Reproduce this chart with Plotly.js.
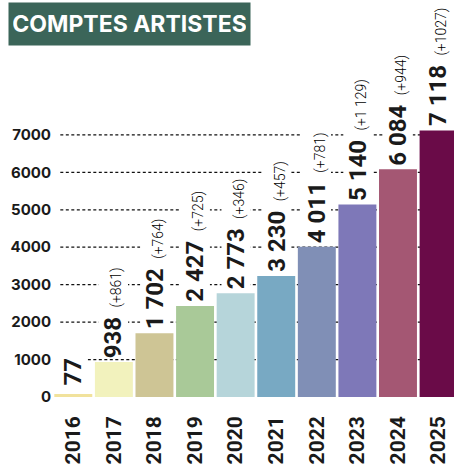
<!DOCTYPE html>
<html>
<head>
<meta charset="utf-8">
<script src="https://cdn.plot.ly/plotly-3.0.1.min.js"></script>
<style>html,body{margin:0;padding:0;background:#fff;}#chart{width:454px;height:471px;}</style>
</head>
<body>
<div id="chart"></div>
<script>
const years = ['2016','2017','2018','2019','2020','2021','2022','2023','2024','2025'];
const counts = [77, 938, 1702, 2427, 2773, 3230, 4011, 5140, 6084, 7118];
const countLabels = ['77','938','1 702','2 427','2 773','3 230','4 011','5 140','6 084','7 118'];
const increaseLabels = ['', '(+861)', '(+764)', '(+725)', '(+346)', '(+457)', '(+781)', '(+1 129)', '(+944)', '(+1027)'];
const barColors = ['#f1e29c','#f2f2bd','#cec595','#a9c998','#b6d5da','#78a9c3','#808fb6','#7e78b8','#a45773','#6a0b48'];
const yTickVals = [0, 1000, 2000, 3000, 4000, 5000, 6000, 7000];
const yTickText = ['0','1000','2000','3000','4000','5000','6000','7000'];
const chartTitle = 'COMPTES ARTISTES';

const numFont = 'Roboto, "DejaVu Sans", sans-serif';

const trace = {
  type: 'bar',
  x: years,
  y: counts,
  marker: {color: barColors, line: {width: 0}},
  hoverinfo: 'x+y'
};

const gridShapes = yTickVals.filter(v => v > 0).map(v => ({
  type: 'line', xref: 'x', yref: 'y', layer: 'below',
  x0: -0.32, x1: 9.6, y0: v, y1: v,
  line: {color: '#111', width: 1.3, dash: '3px,2.5px'}
}));

const barAnnotations = years.map((yr, i) => ({
  x: i, y: counts[i], xref: 'x', yref: 'y',
  text: '<b>' + countLabels[i] + '\u00a0</b>' + (increaseLabels[i] ? '<span style="font-size:14px;font-weight:300;color:#000000">\u00a0' + increaseLabels[i] + '</span>' : ''),
  textangle: -90, showarrow: false,
  xanchor: 'center', yanchor: 'bottom', yshift: i === 0 ? 8 : 3,
  bgcolor: '#ffffff', borderpad: 0,
  font: {family: numFont, size: 24, color: '#1a1a1a'}
}));

const titleAnnotation = {
  xref: 'paper', yref: 'paper', x: -0.112, y: 1.173,
  xanchor: 'left', yanchor: 'top', showarrow: false,
  text: '<b>' + chartTitle + '</b>',
  bgcolor: '#3b6559', borderpad: 4, width: 233, height: 34, align: 'center', valign: 'middle',
  font: {family: 'Inter, sans-serif', size: 23, color: '#ffffff'}
};

const layout = {
  width: 454, height: 471,
  margin: {l: 53, r: 0, t: 60, b: 74, pad: 0},
  paper_bgcolor: '#ffffff', plot_bgcolor: '#ffffff',
  bargap: 0.065,
  showlegend: false,
  xaxis: {
    type: 'category', range: [-0.5, 9.38], fixedrange: true,
    showgrid: false, zeroline: false, showline: false, ticks: '',
    tickangle: -90, ticklabelstandoff: 14,
    tickfont: {family: numFont, size: 21, color: '#1a1a1a', weight: 'bold'}
  },
  yaxis: {
    range: [0, 9000], fixedrange: true,
    tickvals: yTickVals, ticktext: yTickText,
    showgrid: false, zeroline: false, showline: false, ticks: '',
    ticklabelstandoff: 1,
    tickfont: {family: 'Inter, sans-serif', size: 15, color: '#1a1a1a', weight: 'bold'}
  },
  shapes: gridShapes,
  annotations: barAnnotations.concat([titleAnnotation])
};

Plotly.newPlot('chart', [trace], layout, {displayModeBar: false, staticPlot: true});
</script>
</body>
</html>
